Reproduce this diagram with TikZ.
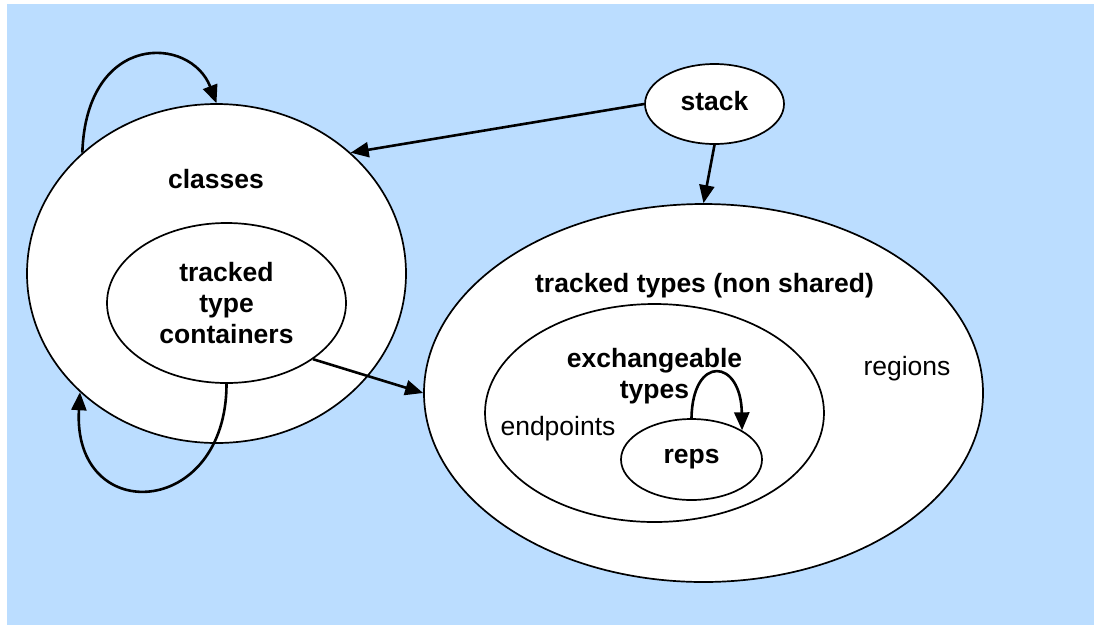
\documentclass[tikz,border=0pt]{standalone}
\usepackage{fontspec}
\setmainfont{Liberation Sans}
\usetikzlibrary{arrows.meta,shapes.geometric}

\definecolor{bgblue}{RGB}{187,221,255}
\newcommand\lblfont{\fontsize{26.5}{31}\selectfont}

\tikzset{
  area/.style={draw,ellipse,fill=white,line width=1.7pt,inner sep=0pt},
  link/.style={line width=2.6pt,-{Triangle[length=18pt,width=15pt]}},
  boldtext/.style={font=\lblfont\bfseries,align=center},
  normaltext/.style={font=\lblfont},
}

\begin{document}
\begin{tikzpicture}[x=1pt,y=-1pt]
    \useasboundingbox (0,0) rectangle (1094,625);
    \fill[bgblue] (7,4) rectangle (1094,625);

    \coordinate (c) at (216.5,273.5);
    \coordinate (t) at (703.5,393);

    % left side: classes holding the containers
    \node (cls) [area,minimum width=379pt,minimum height=339pt] at (c) {};
    \node (ttc) [area,boldtext,minimum width=239pt,minimum height=160pt] at (226.5,303) {tracked\\type\\containers};

    \node (stk) [area,boldtext,minimum width=139pt,minimum height=80pt] at (714.5,104) {};
    \node (stkname) [boldtext] at (714.5,101) {stack};

    % right side: nested type sets
    \node (tt) [area,minimum width=559pt,minimum height=378pt] at (t) {};
    \node (ext) [area,minimum width=339pt,minimum height=218pt] at (654.5,413) {};
    \node (reps) [area,boldtext,minimum width=141pt,minimum height=81pt] at (691.5,459.5) {reps};

    \node (clsname) [boldtext] at (216,179) {classes};
    \node (ttname) [boldtext] at (704.5,286) {tracked types (non shared)};
    \node (extname) [boldtext] at (654.5,376) {exchangeable\\types};
    \node (endp) [normaltext] at (558,429) {endpoints};
    \node (regs) [normaltext] at (907,369) {regions};

    \draw[link] (stk.west) -- (cls.42);
    \draw[link] (stk.south) -- (tt.north);
    \draw[link] (ttc.-33.5) -- (tt.west);

    % self loops
    \draw[link] (cls.138) .. controls +(4,-121) and +(-26,-68) .. (cls.north);
    \draw[link] (ttc.south) .. controls +(0,135) and +(-8,135) .. (cls.221.4);
    \draw[link] (reps.north) .. controls +(1,-64) and +(-1,-72) .. (reps.30.8);

\end{tikzpicture}
\end{document}
